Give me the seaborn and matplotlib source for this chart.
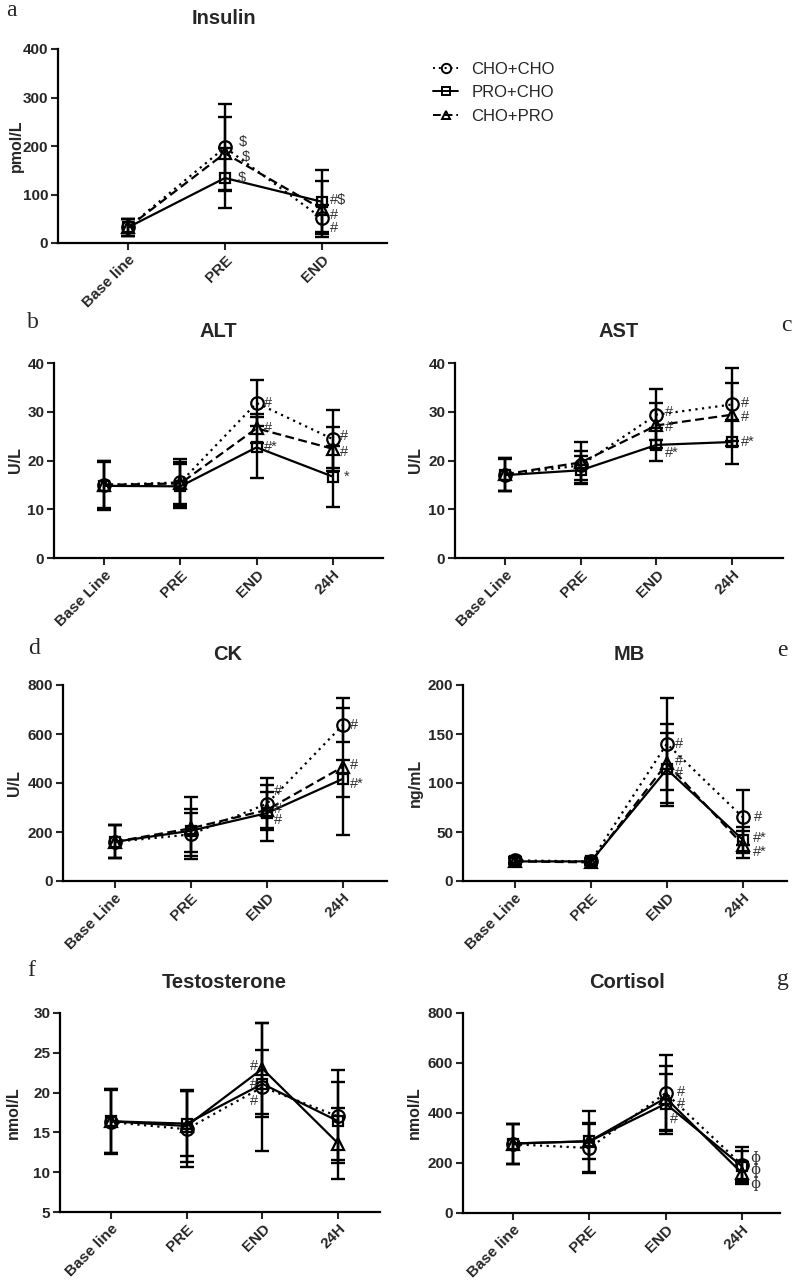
import matplotlib
matplotlib.use('Agg')
import numpy as np
import pandas as pd
import matplotlib.pyplot as plt
import seaborn as sns
from matplotlib.lines import Line2D

groups = ['CHO+CHO', 'PRO+CHO', 'CHO+PRO']

# a - insulin (pmol/L)
insulin_times = ['Base line', 'PRE', 'END']
insulin_cc = [32, 197, 51]
insulin_cc_sd = [17, 90, 28]
insulin_pc = [32, 134, 85]
insulin_pc_sd = [17, 62, 66]
insulin_cp = [32, 185, 70]
insulin_cp_sd = [17, 75, 57]

# b - ALT (U/L)
times_upper = ['Base Line', 'PRE', 'END', '24H']
alt_cc = [15.0, 15.5, 31.8, 24.4]
alt_cc_sd = [4.8, 4.8, 4.8, 5.9]
alt_pc = [14.8, 14.7, 22.7, 16.7]
alt_pc_sd = [4.9, 4.5, 6.2, 6.3]
alt_cp = [15.0, 15.3, 26.6, 22.4]
alt_cp_sd = [4.9, 4.3, 3.0, 4.5]

# c - AST (U/L)
ast_cc = [17.1, 19.0, 29.4, 31.5]
ast_cc_sd = [3.4, 2.9, 5.2, 7.5]
ast_pc = [17.0, 18.0, 23.2, 23.8]
ast_pc_sd = [3.3, 2.9, 3.4, 4.5]
ast_cp = [17.2, 19.6, 27.2, 29.4]
ast_cp_sd = [3.4, 4.2, 4.6, 6.5]

# d - CK (U/L)
ck_cc = [160, 190, 315, 637]
ck_cc_sd = [67, 88, 107, 69]
ck_pc = [160, 205, 277, 417]
ck_pc_sd = [67, 88, 115, 76]
ck_cp = [160, 215, 290, 466]
ck_cp_sd = [67, 126, 75, 280]

# e - MB (ng/mL)
mb_cc = [21, 20, 140, 65]
mb_cc_sd = [3, 3, 47, 28]
mb_pc = [20, 20, 114, 42]
mb_pc_sd = [3, 3, 37, 13]
mb_cp = [20, 19, 120, 37]
mb_cp_sd = [3, 3, 40, 14]

# f - testosterone (nmol/L)
times_lower = ['Base line', 'PRE', 'END', '24H']
testo_cc = [16.3, 15.4, 20.7, 17.0]
testo_cc_sd = [4.0, 4.8, 8.0, 5.9]
testo_pc = [16.4, 16.1, 21.1, 16.4]
testo_pc_sd = [4.0, 4.1, 4.2, 4.9]
testo_cp = [16.4, 15.8, 23.0, 13.6]
testo_cp_sd = [4.0, 4.5, 5.7, 4.5]

# g - cortisol (nmol/L)
cort_cc = [275, 260, 480, 193]
cort_cc_sd = [80, 100, 153, 73]
cort_pc = [278, 287, 437, 187]
cort_pc_sd = [80, 122, 120, 60]
cort_cp = [278, 287, 460, 160]
cort_cp_sd = [80, 70, 127, 45]

# significance marks: (group, time index, text, dx pt, dy pt)
insulin_marks = [('CHO+CHO', 1, '$', 10, 4), ('CHO+PRO', 1, '$', 12, -3), ('PRO+CHO', 1, '$', 9, 0),
                 ('PRO+CHO', 2, '#$', 6, 1), ('CHO+PRO', 2, '#', 6, -4), ('CHO+CHO', 2, '#', 6, -7)]
alt_marks = [('CHO+CHO', 2, '#', 5, 0), ('CHO+PRO', 2, '#', 5, 0), ('PRO+CHO', 2, '#*', 5, 0),
             ('CHO+CHO', 3, '#', 5, 2), ('CHO+PRO', 3, '#', 5, -2), ('PRO+CHO', 3, '*', 8, 0)]
ast_marks = [('CHO+CHO', 2, '#', 6, 2), ('CHO+PRO', 2, '#', 6, -1), ('PRO+CHO', 2, '#*', 6, -6),
             ('CHO+CHO', 3, '#', 6, 1), ('CHO+PRO', 3, '#', 6, -2), ('PRO+CHO', 3, '#*', 6, 0)]
ck_marks = [('CHO+CHO', 2, '#', 5, 9), ('CHO+PRO', 2, '#', 5, 1), ('PRO+CHO', 2, '#', 5, -5),
            ('CHO+CHO', 3, '#', 5, 0), ('CHO+PRO', 3, '#', 5, 1), ('PRO+CHO', 3, '#*', 5, -4)]
mb_marks = [('CHO+CHO', 2, '#', 6, 0), ('CHO+PRO', 2, '#', 6, 2), ('PRO+CHO', 2, '#', 6, -3),
            ('CHO+CHO', 3, '#', 8, 0), ('PRO+CHO', 3, '#*', 7, 1), ('CHO+PRO', 3, '#*', 7, -5)]
testo_marks = [('CHO+PRO', 2, '#', -3, 2), ('PRO+CHO', 2, '#', -3, 0), ('CHO+CHO', 2, '#', -3, -10)]
cort_marks = [('CHO+CHO', 2, '#', 8, 1), ('CHO+PRO', 2, '#', 8, -4), ('PRO+CHO', 2, '#', 3, -11),
              ('CHO+CHO', 3, 'ɸ', 6, 5), ('PRO+CHO', 3, 'ɸ', 6, -3), ('CHO+PRO', 3, 'ɸ', 6, -8)]

sns.set_style('white')
plt.rcParams['font.family'] = ['Liberation Sans', 'DejaVu Sans']
plt.rcParams['font.weight'] = 'bold'

styles = {
    'CHO+CHO': dict(linestyle=(0, (1, 2)), marker='o', markersize=9),
    'PRO+CHO': dict(linestyle='-', marker='s', markersize=7),
    'CHO+PRO': dict(linestyle=(0, (4, 2)), marker='^', markersize=8),
}


def make_df(times, means, sds):
    rows = []
    for g, m, s in zip(groups, means, sds):
        for i, t in enumerate(times):
            rows.append({'x': i, 'time': t, 'group': g, 'mean': m[i], 'sd': s[i]})
    return pd.DataFrame(rows)


def draw_panel(ax, df, times, ylim, yticks, ylabel, marks, xlim, solid=False):
    for g in groups:
        d = df[df.group == g]
        ax.errorbar(d['x'], d['mean'], yerr=d['sd'], fmt='none', ecolor='black',
                    elinewidth=1.7, capsize=5, capthick=1.7, zorder=2)
    for g in groups:
        st = dict(styles[g])
        if solid and g == 'CHO+PRO':
            st['linestyle'] = '-'
        sns.lineplot(data=df[df.group == g], x='x', y='mean', ax=ax, color='black',
                     errorbar=None, linewidth=1.6, markerfacecolor='none',
                     markeredgecolor='black', markeredgewidth=1.6, zorder=3,
                     legend=False, **st)
    for g, i, txt, dx, dy in marks:
        val = df[(df.group == g) & (df.x == i)]['mean'].iloc[0]
        kw = dict(fontsize=10.5, fontweight='normal', color='#333333')
        if txt == 'ɸ':
            kw.update(family=['DejaVu Serif'], fontsize=10.5)
        ax.annotate(txt, (i, val), xytext=(dx, dy), textcoords='offset points',
                    ha='left' if dx > 0 else 'right', va='center', **kw)
    ax.set_xlim(*xlim)
    ax.set_ylim(*ylim)
    ax.set_yticks(yticks)
    ax.set_xticks(range(len(times)))
    ax.set_xticklabels(times, rotation=45, ha='right', rotation_mode='anchor', fontweight='bold')
    ax.set_xlabel('')
    ax.set_ylabel(ylabel, fontsize=11.5, fontweight='bold')
    ax.tick_params(axis='both', direction='out', length=5, width=1.5, labelsize=11, pad=2,
                   bottom=True, left=True)
    for lab in ax.get_yticklabels():
        lab.set_fontweight('bold')
    sns.despine(ax=ax)
    for sp in ['left', 'bottom']:
        ax.spines[sp].set_linewidth(1.6)
        ax.spines[sp].set_color('black')


W, H = 800, 1281
fig = plt.figure(figsize=(8, 12.81), dpi=100)


def add_axes(left, right, top, bottom):
    return fig.add_axes([left / W, 1 - bottom / H, (right - left) / W, (bottom - top) / H])


ax_a = add_axes(58, 387, 49, 243)
ax_b = add_axes(54, 383, 363, 558)
ax_c = add_axes(455, 783, 363, 558)
ax_d = add_axes(63, 387, 685, 881)
ax_e = add_axes(463, 787, 685, 881)
ax_f = add_axes(60, 380, 1013, 1212)
ax_g = add_axes(463, 780, 1013, 1213)

draw_panel(ax_a, make_df(insulin_times, [insulin_cc, insulin_pc, insulin_cp],
                         [insulin_cc_sd, insulin_pc_sd, insulin_cp_sd]),
           insulin_times, (0, 400), [0, 100, 200, 300, 400], 'pmol/L', insulin_marks, (-0.72, 2.67))
draw_panel(ax_b, make_df(times_upper, [alt_cc, alt_pc, alt_cp], [alt_cc_sd, alt_pc_sd, alt_cp_sd]),
           times_upper, (0, 40), [0, 10, 20, 30, 40], 'U/L', alt_marks, (-0.66, 3.66))
draw_panel(ax_c, make_df(times_upper, [ast_cc, ast_pc, ast_cp], [ast_cc_sd, ast_pc_sd, ast_cp_sd]),
           times_upper, (0, 40), [0, 10, 20, 30, 40], 'U/L', ast_marks, (-0.66, 3.67))
draw_panel(ax_d, make_df(times_upper, [ck_cc, ck_pc, ck_cp], [ck_cc_sd, ck_pc_sd, ck_cp_sd]),
           times_upper, (0, 800), [0, 200, 400, 600, 800], 'U/L', ck_marks, (-0.68, 3.58))
draw_panel(ax_e, make_df(times_upper, [mb_cc, mb_pc, mb_cp], [mb_cc_sd, mb_pc_sd, mb_cp_sd]),
           times_upper, (0, 200), [0, 50, 100, 150, 200], 'ng/mL', mb_marks, (-0.68, 3.58))
draw_panel(ax_f, make_df(times_lower, [testo_cc, testo_pc, testo_cp],
                         [testo_cc_sd, testo_pc_sd, testo_cp_sd]),
           times_lower, (5, 30), [5, 10, 15, 20, 25, 30], 'nmol/L', testo_marks, (-0.67, 3.55),
           solid=True)
draw_panel(ax_g, make_df(times_lower, [cort_cc, cort_pc, cort_cp],
                         [cort_cc_sd, cort_pc_sd, cort_cp_sd]),
           times_lower, (0, 800), [0, 200, 400, 600, 800], 'nmol/L', cort_marks, (-0.66, 3.5),
           solid=True)

# y-label positions (figure pixels, right edge of the rotated label)
for ax, x in [(ax_a, 24), (ax_b, 23), (ax_c, 423), (ax_d, 22), (ax_e, 423), (ax_f, 21), (ax_g, 422)]:
    pos = ax.get_position()
    ax.yaxis.set_label_coords(x / W, pos.y0 + pos.height / 2, transform=fig.transFigure)

# titles
for txt, x, y in [('Insulin', 224, 18), ('ALT', 218, 331), ('AST', 619, 331), ('CK', 228, 654),
                  ('MB', 629, 654), ('Testosterone', 224, 982), ('Cortisol', 627, 982)]:
    fig.text(x / W, 1 - y / H, txt, ha='center', va='center', fontsize=14.5, fontweight='bold')

# panel letters
for txt, x, y in [('a', 11, 10), ('b', 33, 322), ('c', 786, 325), ('d', 34, 648),
                  ('e', 782, 651), ('f', 31, 970), ('g', 783, 980)]:
    fig.text(x / W, 1 - y / H, txt, ha='center', va='center', fontsize=17,
             fontweight='normal', family=['Liberation Serif', 'DejaVu Serif'])

handles = [Line2D([], [], color='black', linewidth=1.4, markerfacecolor='none',
                  markeredgecolor='black', markeredgewidth=1.4,
                  linestyle=styles[g]['linestyle'], marker=styles[g]['marker'],
                  markersize=styles[g]['markersize'] * 0.75) for g in groups]
leg = fig.legend(handles, groups, loc='upper left', bbox_to_anchor=(418 / W, 1 - 47 / H),
                 frameon=False, handlelength=1.5, handletextpad=0.8, labelspacing=0.5,
                 prop={'size': 12, 'weight': 'normal'})

fig.savefig('out.png', dpi=100, facecolor='white')
